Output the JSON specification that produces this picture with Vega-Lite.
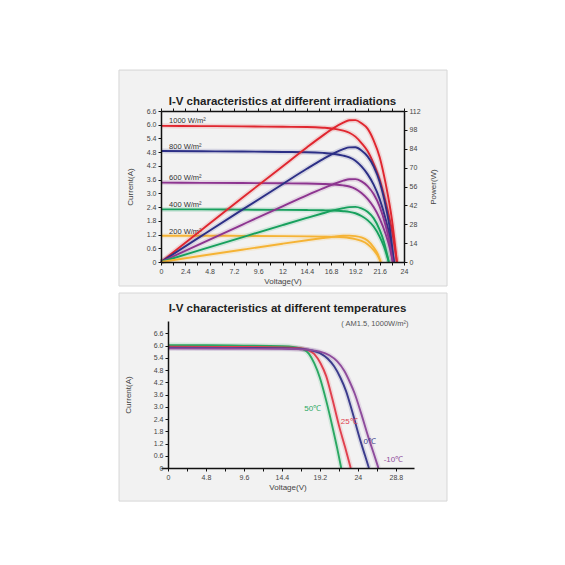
{
  "$schema": "https://vega.github.io/schema/vega-lite/v6.json",
  "background": "white",
  "padding": {"left": 118, "top": 69, "right": 0, "bottom": 0},
  "spacing": 5,
  "bounds": "full",
  "resolve": {"scale": {"color": "independent"}},
  "config": {
    "font": "Liberation Sans",
    "view": {"stroke": null},
    "axis": {"domainColor": "#111", "domainWidth": 1.5, "tickColor": "#111", "tickWidth": 1, "tickSize": 3, "tickCount": 100, "labelFontSize": 7, "labelColor": "#444", "titleFontSize": 8, "titleFontWeight": "normal", "titleColor": "#444", "grid": false, "labelPadding": 2, "labelOverlap": false, "labelFlush": false, "labelBound": false},
    "title": {"fontSize": 11.5, "fontWeight": "bold", "color": "#222", "anchor": "middle"},
    "line": {"strokeWidth": 1.9}
  },
  "datasets": {
    "irr": [
      {"s": "1000", "V": 0, "I": 5.95, "P": 0}, {"s": "1000", "V": 4, "I": 5.94, "P": 23.76}, {"s": "1000", "V": 8, "I": 5.93, "P": 47.44}, {"s": "1000", "V": 12, "I": 5.91, "P": 70.92}, {"s": "1000", "V": 14.4, "I": 5.9, "P": 84.96}, {"s": "1000", "V": 16, "I": 5.87, "P": 93.92}, {"s": "1000", "V": 17, "I": 5.83, "P": 99.11}, {"s": "1000", "V": 18, "I": 5.74, "P": 103.32}, {"s": "1000", "V": 18.6, "I": 5.65, "P": 105.09}, {"s": "1000", "V": 19.2, "I": 5.48, "P": 105.22}, {"s": "1000", "V": 19.8, "I": 5.2, "P": 102.96}, {"s": "1000", "V": 20.4, "I": 4.85, "P": 98.94}, {"s": "1000", "V": 21, "I": 4.3, "P": 90.3}, {"s": "1000", "V": 21.6, "I": 3.6, "P": 77.76}, {"s": "1000", "V": 22.2, "I": 2.6, "P": 57.72}, {"s": "1000", "V": 22.8, "I": 1.4, "P": 31.92}, {"s": "1000", "V": 23.3, "I": 0, "P": 0},
      {"s": "800", "V": 0, "I": 4.85, "P": 0}, {"s": "800", "V": 4, "I": 4.84, "P": 19.36}, {"s": "800", "V": 8, "I": 4.83, "P": 38.64}, {"s": "800", "V": 12, "I": 4.81, "P": 57.72}, {"s": "800", "V": 14.4, "I": 4.8, "P": 69.12}, {"s": "800", "V": 16, "I": 4.77, "P": 76.32}, {"s": "800", "V": 17, "I": 4.73, "P": 80.41}, {"s": "800", "V": 18, "I": 4.65, "P": 83.7}, {"s": "800", "V": 18.6, "I": 4.57, "P": 85.0}, {"s": "800", "V": 19.2, "I": 4.43, "P": 85.06}, {"s": "800", "V": 19.8, "I": 4.18, "P": 82.76}, {"s": "800", "V": 20.4, "I": 3.84, "P": 78.34}, {"s": "800", "V": 21, "I": 3.38, "P": 70.98}, {"s": "800", "V": 21.6, "I": 2.75, "P": 59.4}, {"s": "800", "V": 22.2, "I": 1.85, "P": 41.07}, {"s": "800", "V": 22.6, "I": 1.1, "P": 24.86}, {"s": "800", "V": 23.0, "I": 0, "P": 0},
      {"s": "600", "V": 0, "I": 3.47, "P": 0}, {"s": "600", "V": 4, "I": 3.46, "P": 13.84}, {"s": "600", "V": 8, "I": 3.45, "P": 27.6}, {"s": "600", "V": 12, "I": 3.44, "P": 41.28}, {"s": "600", "V": 14.4, "I": 3.43, "P": 49.39}, {"s": "600", "V": 16, "I": 3.41, "P": 54.56}, {"s": "600", "V": 17, "I": 3.39, "P": 57.63}, {"s": "600", "V": 18, "I": 3.35, "P": 60.3}, {"s": "600", "V": 18.6, "I": 3.3, "P": 61.38}, {"s": "600", "V": 19.2, "I": 3.2, "P": 61.44}, {"s": "600", "V": 19.8, "I": 3.02, "P": 59.8}, {"s": "600", "V": 20.4, "I": 2.76, "P": 56.3}, {"s": "600", "V": 21, "I": 2.4, "P": 50.4}, {"s": "600", "V": 21.6, "I": 1.9, "P": 41.04}, {"s": "600", "V": 22.2, "I": 1.2, "P": 26.64}, {"s": "600", "V": 22.6, "I": 0.6, "P": 13.56}, {"s": "600", "V": 22.9, "I": 0, "P": 0},
      {"s": "400", "V": 0, "I": 2.3, "P": 0}, {"s": "400", "V": 4, "I": 2.3, "P": 9.2}, {"s": "400", "V": 8, "I": 2.29, "P": 18.32}, {"s": "400", "V": 12, "I": 2.28, "P": 27.36}, {"s": "400", "V": 14.4, "I": 2.27, "P": 32.69}, {"s": "400", "V": 16, "I": 2.26, "P": 36.16}, {"s": "400", "V": 17, "I": 2.25, "P": 38.25}, {"s": "400", "V": 18, "I": 2.22, "P": 39.96}, {"s": "400", "V": 18.6, "I": 2.19, "P": 40.73}, {"s": "400", "V": 19.2, "I": 2.13, "P": 40.9}, {"s": "400", "V": 19.8, "I": 2.01, "P": 39.8}, {"s": "400", "V": 20.4, "I": 1.83, "P": 37.33}, {"s": "400", "V": 21, "I": 1.55, "P": 32.55}, {"s": "400", "V": 21.6, "I": 1.1, "P": 23.76}, {"s": "400", "V": 22.0, "I": 0.7, "P": 15.4}, {"s": "400", "V": 22.5, "I": 0, "P": 0},
      {"s": "200", "V": 0, "I": 1.15, "P": 0}, {"s": "200", "V": 4, "I": 1.15, "P": 4.6}, {"s": "200", "V": 8, "I": 1.14, "P": 9.12}, {"s": "200", "V": 12, "I": 1.13, "P": 13.56}, {"s": "200", "V": 14.4, "I": 1.12, "P": 16.13}, {"s": "200", "V": 16, "I": 1.11, "P": 17.76}, {"s": "200", "V": 17, "I": 1.1, "P": 18.7}, {"s": "200", "V": 18, "I": 1.08, "P": 19.44}, {"s": "200", "V": 18.6, "I": 1.05, "P": 19.53}, {"s": "200", "V": 19.2, "I": 1.0, "P": 19.2}, {"s": "200", "V": 19.8, "I": 0.92, "P": 18.22}, {"s": "200", "V": 20.4, "I": 0.78, "P": 15.91}, {"s": "200", "V": 21, "I": 0.52, "P": 10.92}, {"s": "200", "V": 21.4, "I": 0.28, "P": 5.99}, {"s": "200", "V": 21.7, "I": 0, "P": 0}
    ],
    "irrLabels": [
      {"t": "1000 W/m²", "V": 0.8, "I": 6.16},
      {"t": "800 W/m²", "V": 0.8, "I": 5.03},
      {"t": "600 W/m²", "V": 0.8, "I": 3.67},
      {"t": "400 W/m²", "V": 0.8, "I": 2.49},
      {"t": "200 W/m²", "V": 0.8, "I": 1.31}
    ],
    "temp": [
      {"s": "50", "V": 0, "I": 6.02}, {"s": "50", "V": 8, "I": 6.0}, {"s": "50", "V": 14.4, "I": 5.97}, {"s": "50", "V": 16, "I": 5.92}, {"s": "50", "V": 17, "I": 5.83}, {"s": "50", "V": 17.8, "I": 5.6}, {"s": "50", "V": 18.5, "I": 5.12}, {"s": "50", "V": 19.2, "I": 4.42}, {"s": "50", "V": 20.0, "I": 3.3}, {"s": "50", "V": 20.8, "I": 2.0}, {"s": "50", "V": 21.4, "I": 0.95}, {"s": "50", "V": 21.9, "I": 0},
      {"s": "25", "V": 0, "I": 5.94}, {"s": "25", "V": 8, "I": 5.93}, {"s": "25", "V": 14.4, "I": 5.91}, {"s": "25", "V": 16.5, "I": 5.87}, {"s": "25", "V": 17.5, "I": 5.8}, {"s": "25", "V": 18.5, "I": 5.58}, {"s": "25", "V": 19.3, "I": 5.12}, {"s": "25", "V": 20.0, "I": 4.5}, {"s": "25", "V": 20.8, "I": 3.35}, {"s": "25", "V": 21.6, "I": 2.1}, {"s": "25", "V": 22.4, "I": 1.0}, {"s": "25", "V": 23.1, "I": 0},
      {"s": "0", "V": 0, "I": 5.89}, {"s": "0", "V": 8, "I": 5.88}, {"s": "0", "V": 14.4, "I": 5.87}, {"s": "0", "V": 16.5, "I": 5.84}, {"s": "0", "V": 18, "I": 5.77}, {"s": "0", "V": 19.2, "I": 5.63}, {"s": "0", "V": 20.2, "I": 5.35}, {"s": "0", "V": 21.0, "I": 4.98}, {"s": "0", "V": 21.8, "I": 4.42}, {"s": "0", "V": 22.5, "I": 3.78}, {"s": "0", "V": 23.3, "I": 2.75}, {"s": "0", "V": 24.2, "I": 1.5}, {"s": "0", "V": 24.9, "I": 0.62}, {"s": "0", "V": 25.4, "I": 0},
      {"s": "-10", "V": 0, "I": 5.86}, {"s": "-10", "V": 8, "I": 5.85}, {"s": "-10", "V": 14.4, "I": 5.84}, {"s": "-10", "V": 16.5, "I": 5.82}, {"s": "-10", "V": 18, "I": 5.78}, {"s": "-10", "V": 19.2, "I": 5.7}, {"s": "-10", "V": 20.4, "I": 5.52}, {"s": "-10", "V": 21.4, "I": 5.22}, {"s": "-10", "V": 22.3, "I": 4.75}, {"s": "-10", "V": 23.0, "I": 4.2}, {"s": "-10", "V": 23.6, "I": 3.65}, {"s": "-10", "V": 24.4, "I": 2.7}, {"s": "-10", "V": 25.3, "I": 1.55}, {"s": "-10", "V": 26.0, "I": 0.72}, {"s": "-10", "V": 26.6, "I": 0}
    ],
    "tempLabels": [
      {"s": "50", "t": "50℃", "V": 18.3, "I": 2.89},
      {"s": "25", "t": "25℃", "V": 22.9, "I": 2.25},
      {"s": "0", "t": "0℃", "V": 25.5, "I": 1.27},
      {"s": "-10", "t": "-10℃", "V": 28.5, "I": 0.39}
    ],
    "note": [{"t": "( AM1.5,  1000W/m²)", "V": 30.4, "I": 7.05}]
  },
  "vconcat": [
    {
      "width": 243,
      "height": 151,
      "title": {"text": "I-V characteristics at different irradiations", "offset": -38},
      "layer": [
        {
          "layer": [
            {
              "data": {"values": [{}]},
              "mark": {"type": "rect", "fill": "#f2f2f2", "stroke": "#d6d6d6", "strokeWidth": 1},
              "encoding": {
                "x": {"datum": -4.15, "type": "quantitative", "scale": {"domain": [0, 24], "nice": false, "zero": false},
                  "axis": {"zindex": 2, "tickCount": 100, "labelOverlap": false, "title": "Voltage(V)", "titlePadding": 3, "values": [0, 1.2, 2.4, 3.6, 4.8, 6, 7.2, 8.4, 9.6, 10.8, 12, 13.2, 14.4, 15.6, 16.8, 18, 19.2, 20.4, 21.6, 22.8, 24], "labelExpr": "round(datum.value*10)%24==0 ? format(datum.value,'~g') : ''"}},
                "x2": {"datum": 28.25},
                "y": {"datum": -1.05, "type": "quantitative", "scale": {"domain": [0, 6.6], "nice": false, "zero": false},
                  "axis": {"zindex": 2, "tickCount": 100, "labelOverlap": false, "title": "Current(A)", "titlePadding": 12, "values": [0, 0.6, 1.2, 1.8, 2.4, 3, 3.6, 4.2, 4.8, 5.4, 6, 6.6], "labelExpr": "datum.value==0 ? '0' : format(datum.value,'.1f')"}},
                "y2": {"datum": 8.39}
              }
            },
            {
              "data": {"name": "irr"},
              "mark": {"type": "line", "interpolate": "monotone", "strokeWidth": 5, "opacity": 0.15},
              "encoding": {
                "x": {"field": "V", "type": "quantitative", "title": "Voltage(V)"},
                "y": {"field": "I", "type": "quantitative", "title": "Current(A)"},
                "color": {"field": "s", "type": "nominal", "scale": {"domain": ["1000", "800", "600", "400", "200"], "range": ["#e0262f", "#2c2f86", "#8d3590", "#17a05d", "#f5b335"]}, "legend": null}
              }
            },
            {
              "data": {"name": "irr"},
              "mark": {"type": "line", "interpolate": "monotone"},
              "encoding": {
                "x": {"field": "V", "type": "quantitative", "title": "Voltage(V)"},
                "y": {"field": "I", "type": "quantitative", "title": "Current(A)"},
                "color": {"field": "s", "type": "nominal", "scale": {"domain": ["1000", "800", "600", "400", "200"], "range": ["#e0262f", "#2c2f86", "#8d3590", "#17a05d", "#f5b335"]}, "legend": null}
              }
            },
            {
              "data": {"name": "irrLabels"},
              "mark": {"type": "text", "align": "left", "baseline": "middle", "fontSize": 7.5, "color": "#333"},
              "encoding": {
                "x": {"field": "V", "type": "quantitative", "title": "Voltage(V)"},
                "y": {"field": "I", "type": "quantitative", "title": "Current(A)"},
                "text": {"field": "t"}
              }
            }
          ]
        },
        {
          "layer": [
            {
              "data": {"name": "irr"},
              "mark": {"type": "line", "interpolate": "monotone", "strokeWidth": 5, "opacity": 0.15},
              "encoding": {
                "x": {"field": "V", "type": "quantitative", "axis": {"zindex": 2, "tickCount": 100, "orient": "top", "labels": false, "title": null, "values": [0, 1.2, 2.4, 3.6, 4.8, 6, 7.2, 8.4, 9.6, 10.8, 12, 13.2, 14.4, 15.6, 16.8, 18, 19.2, 20.4, 21.6, 22.8, 24]}},
                "y": {"field": "P", "type": "quantitative", "scale": {"domain": [0, 112], "nice": false, "zero": false},
                  "axis": {"zindex": 2, "tickCount": 100, "labelOverlap": false, "orient": "right", "title": "Power(W)", "titleAngle": 270, "titleBaseline": "top", "titlePadding": 9, "values": [0, 14, 28, 42, 56, 70, 84, 98, 112], "format": "d"}},
                "color": {"field": "s", "type": "nominal", "scale": {"domain": ["1000", "800", "600", "400", "200"], "range": ["#e0262f", "#2c2f86", "#8d3590", "#17a05d", "#f5b335"]}, "legend": null}
              }
            },
            {
              "data": {"name": "irr"},
              "mark": {"type": "line", "interpolate": "monotone"},
              "encoding": {
                "x": {"field": "V", "type": "quantitative"},
                "y": {"field": "P", "type": "quantitative", "title": "Power(W)"},
                "color": {"field": "s", "type": "nominal", "scale": {"domain": ["1000", "800", "600", "400", "200"], "range": ["#e0262f", "#2c2f86", "#8d3590", "#17a05d", "#f5b335"]}, "legend": null}
              }
            }
          ]
        }
      ],
      "resolve": {"scale": {"y": "independent"}, "axis": {"x": "independent"}}
    },
    {
      "width": 253,
      "height": 147,
      "title": {"text": "I-V characteristics at different temperatures", "offset": -22},
      "layer": [
        {
          "data": {"values": [{}]},
          "mark": {"type": "rect", "fill": "#f2f2f2", "stroke": "#d6d6d6", "strokeWidth": 1},
          "encoding": {
            "x": {"datum": -6.19, "type": "quantitative", "scale": {"domain": [-0.885, 31.1], "nice": false, "zero": false},
              "axis": {"zindex": 2, "tickCount": 100, "labelOverlap": false, "title": "Voltage(V)", "titlePadding": 3, "values": [0, 2.4, 4.8, 7.2, 9.6, 12, 14.4, 16.8, 19.2, 21.6, 24, 26.4, 28.8], "labelExpr": "round(datum.value*10)%48==0 ? format(datum.value,'~g') : ''"}},
            "x2": {"datum": 35.27},
            "y": {"datum": -1.62, "type": "quantitative", "scale": {"domain": [0, 7.2], "nice": false, "zero": false},
              "axis": {"zindex": 2, "tickCount": 100, "labelOverlap": false, "offset": -7, "title": "Current(A)", "titlePadding": 21, "values": [0, 0.6, 1.2, 1.8, 2.4, 3, 3.6, 4.2, 4.8, 5.4, 6, 6.6], "labelExpr": "datum.value==0 ? '0' : format(datum.value,'.1f')"}},
            "y2": {"datum": 8.57}
          }
        },
        {
          "data": {"name": "temp"},
          "mark": {"type": "line", "interpolate": "monotone", "strokeWidth": 5, "opacity": 0.15},
          "encoding": {
            "x": {"field": "V", "type": "quantitative", "title": "Voltage(V)"},
            "y": {"field": "I", "type": "quantitative", "title": "Current(A)"},
            "color": {"field": "s", "type": "nominal", "scale": {"domain": ["50", "25", "0", "-10"], "range": ["#2aa862", "#e0404e", "#3b3b8c", "#8e4c9c"]}, "legend": null}
          }
        },
        {
          "data": {"name": "temp"},
          "mark": {"type": "line", "interpolate": "monotone"},
          "encoding": {
            "x": {"field": "V", "type": "quantitative", "title": "Voltage(V)"},
            "y": {"field": "I", "type": "quantitative", "title": "Current(A)"},
            "color": {"field": "s", "type": "nominal", "scale": {"domain": ["50", "25", "0", "-10"], "range": ["#2aa862", "#e0404e", "#3b3b8c", "#8e4c9c"]}, "legend": null}
          }
        },
        {
          "data": {"name": "tempLabels"},
          "mark": {"type": "text", "align": "center", "baseline": "middle", "fontSize": 8},
          "encoding": {
            "x": {"field": "V", "type": "quantitative", "title": "Voltage(V)"},
            "y": {"field": "I", "type": "quantitative", "title": "Current(A)"},
            "text": {"field": "t"},
            "color": {"field": "s", "type": "nominal", "scale": {"domain": ["50", "25", "0", "-10"], "range": ["#2aa862", "#e0404e", "#3b3b8c", "#8e4c9c"]}, "legend": null}
          }
        },
        {
          "data": {"name": "note"},
          "mark": {"type": "text", "align": "right", "baseline": "middle", "fontSize": 7.5, "color": "#555"},
          "encoding": {
            "x": {"field": "V", "type": "quantitative", "title": "Voltage(V)"},
            "y": {"field": "I", "type": "quantitative", "title": "Current(A)"},
            "text": {"field": "t"}
          }
        }
      ]
    }
  ]
}
